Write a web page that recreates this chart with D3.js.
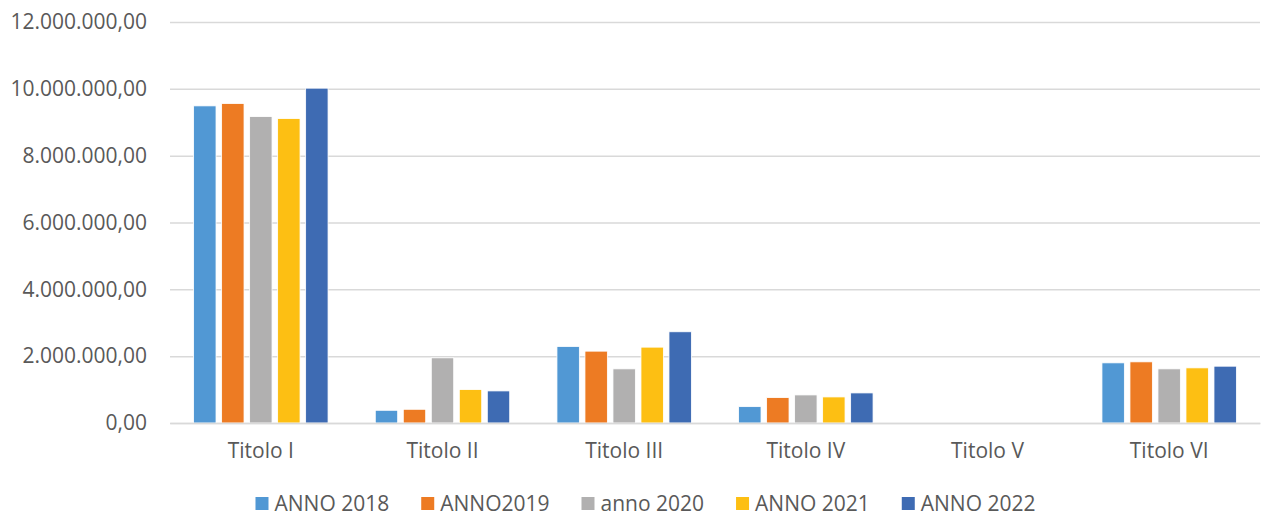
<!DOCTYPE html>
<html>
<head>
<meta charset="utf-8">
<script src="https://cdn.jsdelivr.net/npm/d3@7"></script>
<style>
  html, body { margin: 0; padding: 0; background: #fff; }
  #graphic { width: 1262px; height: 517px; }
  text { font-family: "Open Sans", sans-serif; fill: #595959; }
</style>
</head>
<body>
<div id="graphic"></div>
<script>
// categories and series
const categories = ["Titolo I", "Titolo II", "Titolo III", "Titolo IV", "Titolo V", "Titolo VI"];
const seriesNames = ["ANNO 2018", "ANNO2019", "anno 2020", "ANNO 2021", "ANNO 2022"];
const anno2018 = [9490000, 380000, 2290000, 490000, 0, 1800000];
const anno2019 = [9560000, 410000, 2150000, 760000, 0, 1830000];
const anno2020 = [9170000, 1950000, 1620000, 840000, 0, 1620000];
const anno2021 = [9110000, 1000000, 2270000, 780000, 0, 1650000];
const anno2022 = [10020000, 960000, 2730000, 900000, 0, 1700000];
const yTicks = [0, 2000000, 4000000, 6000000, 8000000, 10000000, 12000000];

const seriesValues = [anno2018, anno2019, anno2020, anno2021, anno2022];
const colors = ["#5198d4", "#ed7b23", "#b1b0b0", "#fdbf13", "#3e6bb3"];

const margin = { left: 170, right: 2, top: 22, bottom: 94 };
const outerWidth = 1262, outerHeight = 517;
const width = outerWidth - margin.left - margin.right;
const height = outerHeight - margin.top - margin.bottom;

// Italian number format: 12.000.000,00
const itFormat = d3.formatLocale({ decimal: ",", thousands: ".", grouping: [3], currency: ["€", ""] }).format(",.2f");

const svg = d3.select("#graphic")
  .append("svg")
  .attr("width", outerWidth)
  .attr("height", outerHeight);

const plot = svg.append("g")
  .attr("transform", `translate(${margin.left}, ${margin.top})`);

const x0 = d3.scaleBand()
  .domain(categories)
  .range([0, width])
  .paddingInner(0.26)
  .paddingOuter(0.13);

const x1 = d3.scaleBand()
  .domain(seriesNames)
  .range([0, x0.bandwidth()])
  .paddingInner(0.2);

const y = d3.scaleLinear()
  .domain([0, 12000000])
  .range([height, 0]);

// grid lines
const yGrid = d3.axisLeft(y)
  .tickValues(yTicks)
  .tickSize(-width)
  .tickFormat("");

plot.append("g")
  .attr("class", "grid")
  .call(yGrid)
  .call(g => g.select(".domain").remove())
  .call(g => g.selectAll("line").attr("stroke", "#d9d9d9").attr("stroke-width", 1.5));

// y axis labels
const yAxis = d3.axisLeft(y)
  .tickValues(yTicks)
  .tickSize(0)
  .tickPadding(23)
  .tickFormat(itFormat);

plot.append("g")
  .attr("class", "axis yaxis")
  .call(yAxis)
  .call(g => g.select(".domain").remove())
  .call(g => g.selectAll("text").style("font-size", "21px").attr("fill", "#595959"));

// bars
const rows = categories.map((c, i) => ({
  category: c,
  values: seriesNames.map((s, j) => ({ series: s, value: seriesValues[j][i], color: colors[j] }))
}));

plot.append("g")
  .selectAll("g")
  .data(rows)
  .enter().append("g")
    .attr("transform", d => `translate(${x0(d.category)}, 0)`)
  .selectAll("rect")
  .data(d => d.values)
  .enter().append("rect")
    .attr("x", d => x1(d.series))
    .attr("width", x1.bandwidth())
    .attr("y", d => y(d.value))
    .attr("height", d => y(0) - y(d.value))
    .attr("fill", d => d.color)
    .attr("stroke", "#fff")
    .attr("stroke-width", 0.8);

// x axis
const xAxis = d3.axisBottom(x0).tickSize(0).tickPadding(20);

plot.append("g")
  .attr("class", "axis xaxis")
  .attr("transform", `translate(0, ${height})`)
  .call(xAxis)
  .call(g => g.select(".domain").attr("stroke", "#d9d9d9").attr("stroke-width", 1.5))
  .call(g => g.selectAll("text").style("font-size", "21px").attr("fill", "#595959"));

// legend
const legend = svg.append("g").attr("class", "legend");
const legendY = 503.5;
const swatch = 13;
const textGap = 6;
const itemGap = 32;
const items = legend.selectAll("g")
  .data(seriesNames)
  .enter().append("g");

items.append("rect")
  .attr("width", swatch)
  .attr("height", swatch)
  .attr("y", legendY - swatch / 2)
  .attr("fill", (d, i) => colors[i]);

items.append("text")
  .attr("x", swatch + textGap)
  .attr("y", legendY)
  .attr("dy", "0.35em")
  .style("font-size", "21px")
  .text(d => d);

let cursor = 0;
const offsets = [];
items.each(function() {
  offsets.push(cursor);
  cursor += swatch + textGap + this.querySelector("text").getComputedTextLength() + itemGap;
});
const totalW = cursor - itemGap;
const startX = 645.5 - totalW / 2;
items.attr("transform", (d, i) => `translate(${startX + offsets[i]}, 0)`);
</script>
</body>
</html>
